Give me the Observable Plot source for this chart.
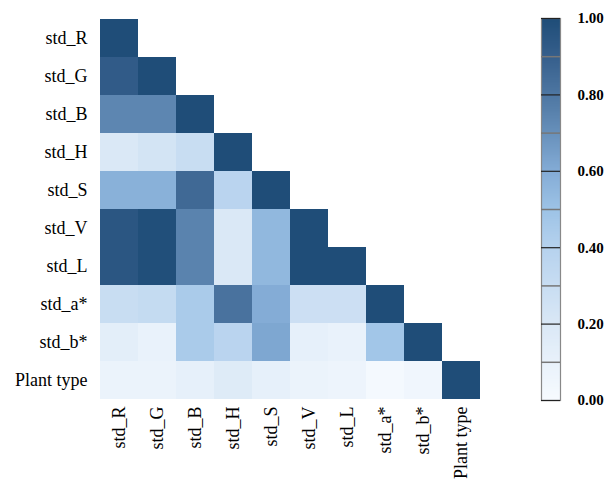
<!DOCTYPE html>
<html>
<head>
<meta charset="utf-8">
<script src="https://cdn.jsdelivr.net/npm/d3@7"></script>
<script src="https://cdn.jsdelivr.net/npm/@observablehq/plot@0.6"></script>
<style>
  body { margin: 0; background: #fff; }
  #wrap { position: relative; width: 616px; height: 483px; }
  #wrap svg { position: absolute; top: 0; left: 0; }
  svg text { font-family: "Liberation Serif", "Times New Roman", serif; }
</style>
</head>
<body>
<div id="wrap"></div>
<script>
const vars = ["std_R","std_G","std_B","std_H","std_S","std_V","std_L","std_a*","std_b*","Plant type"];
// lower-triangle correlation values, row by row (row i has i+1 values)
const rows = [
  [1.00],
  [0.92, 1.00],
  [0.74, 0.74, 1.00],
  [0.20, 0.24, 0.30, 1.00],
  [0.58, 0.58, 0.86, 0.38, 1.00],
  [0.95, 0.99, 0.75, 0.20, 0.55, 1.00],
  [0.95, 0.99, 0.75, 0.20, 0.55, 1.00, 1.00],
  [0.30, 0.32, 0.45, 0.82, 0.60, 0.28, 0.28, 1.00],
  [0.14, 0.10, 0.45, 0.38, 0.62, 0.12, 0.10, 0.48, 1.00],
  [0.08, 0.08, 0.12, 0.17, 0.12, 0.08, 0.07, 0.02, 0.05, 1.00]
];
const colorTicks = [0, 0.2, 0.4, 0.6, 0.8, 1.0];
const minorTicks = [0.1, 0.3, 0.5, 0.7, 0.9];

const cells = [];
rows.forEach((r, i) => r.forEach((v, j) => cells.push({x: vars[j], y: vars[i], v})));

const colorScale = {
  type: "linear",
  domain: [0, 0.2, 0.4, 0.5, 0.6, 0.75, 0.9, 1],
  range: ["#f7fbff", "#dae8f6", "#b6d2ee", "#9dc3e6", "#84acd6", "#5a83ae", "#365f8c", "#1f4d78"],
  interpolate: "rgb"
};

const FONT = "Liberation Serif, Times New Roman, serif";

const main = Plot.plot({
  width: 616, height: 483,
  marginLeft: 96, marginRight: 132, marginTop: 15, marginBottom: 81,
  style: {fontSize: "18px", color: "#000", background: "transparent", fontFamily: FONT},
  x: {domain: vars, padding: 0, label: null},
  y: {domain: vars, padding: 0, label: null},
  color: colorScale,
  marks: [
    Plot.cell(cells, {x: "x", y: "y", fill: "v", inset: 0}),
    Plot.axisY({tickSize: 0, tickPadding: 9, fontSize: 18, fontFamily: FONT}),
    Plot.axisX({tickSize: 0, tickPadding: 4, tickRotate: -90, fontSize: 18, fontFamily: FONT})
  ]
});

const cb = Plot.plot({
  width: 96, height: 420,
  marginLeft: 21, marginRight: 56, marginTop: 18, marginBottom: 20,
  style: {fontSize: "15px", color: "#000", background: "transparent", fontFamily: FONT},
  x: {domain: [0, 1], axis: null},
  y: {domain: [0, 1], axis: null},
  color: colorScale,
  marks: [
    Plot.raster({x1: 0, x2: 1, y1: 0, y2: 1, width: 1, height: 400, fill: (x, y) => y, imageRendering: "auto"}),
    Plot.frame({stroke: "#888", strokeWidth: 1.2}),
    Plot.tickY(minorTicks, {y: d => d, x1: 1.15, x2: 1.65, stroke: "#777", strokeWidth: 1.5, clip: false}),
    Plot.tickY(colorTicks, {y: d => d, x1: 1.15, x2: 1.65, stroke: "#222", strokeWidth: 1.2, clip: false}),
    Plot.text(colorTicks, {y: d => d, x: 1.9, text: d => d.toFixed(2), textAnchor: "start", fontWeight: "bold", fontSize: 15, fontFamily: FONT})
  ]
});
cb.style.left = "520px";

document.getElementById("wrap").append(main, cb);
</script>
</body>
</html>
